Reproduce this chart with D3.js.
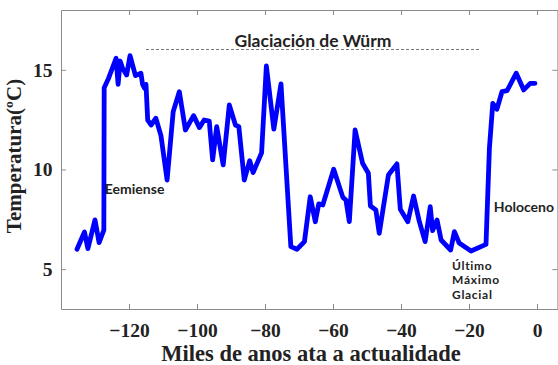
<!DOCTYPE html>
<html>
<head>
<meta charset="utf-8">
<script src="https://cdn.jsdelivr.net/npm/d3@7"></script>
<style>
  html, body { margin: 0; padding: 0; background: #fff; }
  svg { display: block; }
  .axis path, .axis line { stroke: #8a8a8a; stroke-width: 1; }
  .axis text { font-family: "Liberation Serif", "Times New Roman", serif; font-weight: bold; font-size: 19.5px; fill: #222; }
  .title { font-family: "Liberation Serif", "Times New Roman", serif; font-weight: bold; fill: #222; }
  .note { font-family: Lato, "Open Sans", sans-serif; font-weight: 700; fill: #222; }
</style>
</head>
<body>
<script>
// Temperature reconstruction over the last glacial cycle (thousands of years before present)
const years = [
  -135.3, -133.1, -132.1, -130.0, -128.8, -127.4, -127.3, -126.0, -123.8, -123.2,
  -122.6, -121.9, -120.7, -119.7, -118.1, -116.5, -116.0, -115.4, -115.0, -114.5,
  -113.5, -112.1, -110.6, -108.8, -107.0, -105.2, -103.4, -101.0, -99.3, -97.9,
  -96.4, -95.4, -94.2, -92.3, -90.5, -88.7, -87.7, -86.1, -84.5, -83.5,
  -81.0, -79.6, -77.4, -75.3, -72.4, -70.6, -68.4, -66.7, -65.2, -64.2,
  -63.0, -59.8, -57.1, -56.2, -55.2, -53.5, -51.3, -49.6, -49.0, -47.4,
  -46.4, -43.7, -41.2, -40.2, -38.0, -36.3, -34.6, -32.9, -31.4, -30.7,
  -29.4, -28.2, -25.4, -24.3, -22.9, -19.4, -15.0, -14.0, -13.0, -11.8,
  -10.3, -8.8, -6.1, -3.9, -2.0, -0.6
];
const temps = [
  6.00, 6.86, 6.03, 7.47, 6.33, 6.96, 14.10, 14.58, 15.58, 14.27,
  15.44, 15.08, 14.74, 15.71, 14.71, 14.83, 14.27, 14.07, 14.27, 12.48,
  12.23, 12.57, 11.70, 9.47, 12.90, 13.90, 11.98, 12.70, 12.10, 12.48,
  12.43, 10.48, 12.15, 10.23, 13.24, 12.23, 12.15, 9.47, 10.44, 9.84,
  10.84, 15.19, 12.02, 14.29, 6.13, 6.00, 6.38, 8.63, 7.38, 8.27,
  8.22, 10.01, 8.60, 8.47, 7.38, 11.98, 10.31, 9.81, 8.17, 7.97,
  6.80, 9.72, 10.28, 8.00, 7.38, 8.67, 7.38, 6.38, 8.13, 6.93,
  7.47, 6.46, 5.96, 6.88, 6.31, 5.91, 6.24, 11.06, 13.32, 13.02,
  13.90, 13.95, 14.83, 13.99, 14.32, 14.32
];

const xTicks = [-120, -100, -80, -60, -40, -20, 0];
const yTicks = [5, 10, 15];
const xDomain = [-140, 6];
const yDomain = [3, 18];

// Period labels
const glacialLabel = "Glaciación de Würm";
const glacialSpan = [-115, -16.8];
const periodNotes = [
  { lines: ["Eemiense"], year: -127.1, temp: 8.75 },
  { lines: ["Holoceno"], year: -12.7, temp: 7.87 },
  { lines: ["Último", "Máximo", "Glacial"], year: -25.0, temp: 4.98 }
];

const W = 558, H = 365;
const m = { left: 61, right: 0.6, top: 10, bottom: 56 };

const svg = d3.select("body").append("svg").attr("width", W).attr("height", H);

const x = d3.scaleLinear().domain(xDomain).range([m.left, W - m.right]);
const y = d3.scaleLinear().domain(yDomain).range([H - m.bottom, m.top]);

const x0 = x.range()[0], x1 = x.range()[1];
const y0 = y.range()[0], y1 = y.range()[1];

// Box axes with inward ticks
svg.append("g").attr("class", "axis")
  .attr("transform", `translate(0,${y0})`)
  .call(d3.axisBottom(x).tickValues(xTicks).tickSizeInner(-5).tickSizeOuter(0).tickPadding(14));

svg.append("g").attr("class", "axis")
  .attr("transform", `translate(0,${y1})`)
  .call(d3.axisTop(x).tickValues(xTicks).tickSizeInner(-5).tickSizeOuter(0).tickFormat(""));

svg.append("g").attr("class", "axis")
  .attr("transform", `translate(${x0},0)`)
  .call(d3.axisLeft(y).tickValues(yTicks).tickSizeInner(-5).tickSizeOuter(0).tickPadding(8.5));

svg.append("g").attr("class", "axis")
  .attr("transform", `translate(${x1},0)`)
  .call(d3.axisRight(y).tickValues(yTicks).tickSizeInner(-5).tickSizeOuter(0).tickFormat(""));

// Axis titles
svg.append("text").attr("class", "title")
  .attr("x", 311).attr("y", 361)
  .attr("text-anchor", "middle")
  .style("font-size", "22.5px")
  .text("Miles de anos ata a actualidade");

svg.append("text").attr("class", "title")
  .attr("transform", "translate(21,156) rotate(-90)")
  .attr("text-anchor", "middle")
  .style("font-size", "21px")
  .text("Temperatura(ºC)");

// Glacial period marker
svg.append("line")
  .attr("x1", x(glacialSpan[0])).attr("x2", x(glacialSpan[1]))
  .attr("y1", 49.5).attr("y2", 49.5)
  .attr("stroke", "#777").attr("stroke-width", 1).attr("stroke-dasharray", "3,2");

svg.append("text").attr("class", "note")
  .attr("x", 313).attr("y", 46.5)
  .attr("text-anchor", "middle")
  .style("font-size", "17.5px")
  .text(glacialLabel);

// Temperature curve
const data = years.map((yr, i) => ({ yr, t: temps[i] }));
svg.append("path")
  .datum(data)
  .attr("fill", "none")
  .attr("stroke", "#0000ff")
  .attr("stroke-width", 4.8)
  .attr("stroke-linejoin", "round")
  .attr("stroke-linecap", "round")
  .attr("d", d3.line().x(d => x(d.yr)).y(d => y(d.t)));

// Period annotations, one text element per line
periodNotes.forEach(n => {
  const multi = n.lines.length > 1;
  n.lines.forEach((s, i) => {
    svg.append("text").attr("class", "note")
      .attr("x", x(n.year)).attr("y", y(n.temp) + i * 14.5)
      .style("font-size", multi ? "12px" : "14px")
      .style("letter-spacing", multi ? "0.7px" : null)
      .text(s);
  });
});
</script>
</body>
</html>
